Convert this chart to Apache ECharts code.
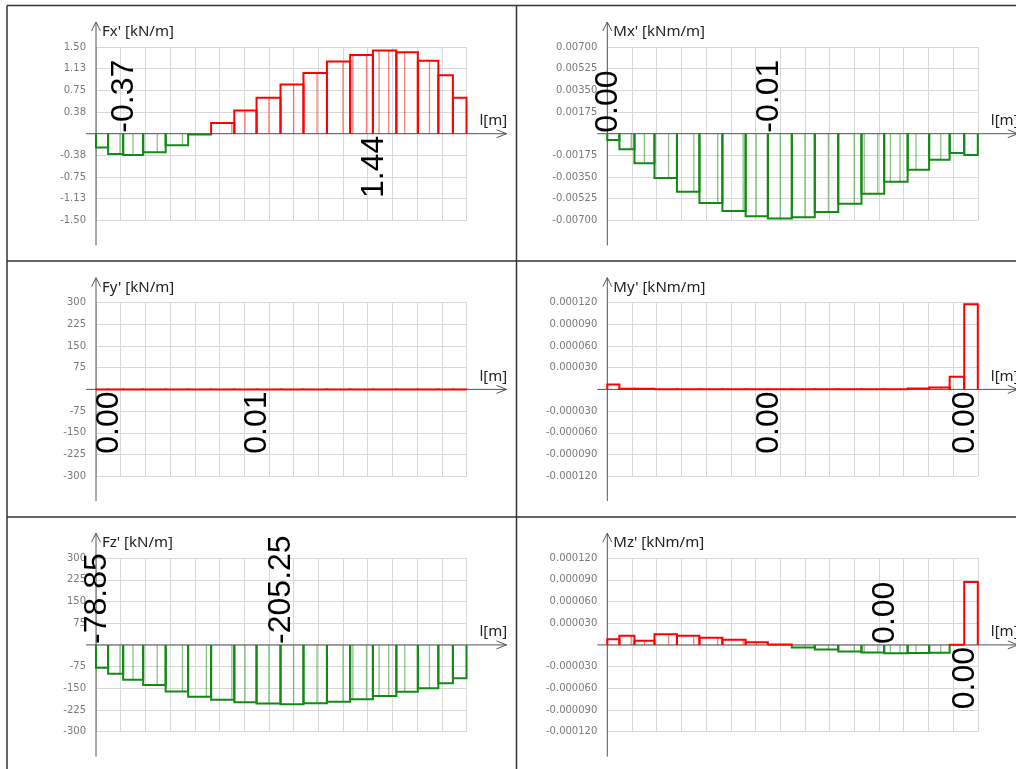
<!DOCTYPE html>
<html><head><meta charset="utf-8">
<script src="https://cdn.jsdelivr.net/npm/echarts@6/dist/echarts.min.js"></script>
<style>html,body{margin:0;padding:0;background:#fff}#c{width:1016px;height:769px}</style>
</head><body><div id="c"></div>
<script>
// ---- data ----
const segmentEdges = [0, 0.49, 1.10, 1.91, 2.82, 3.73, 4.66, 5.60, 6.50, 7.47, 8.40, 9.35, 10.29, 11.21, 12.16, 13.03, 13.86, 14.45, 15];
const meshLines = [0.97, 1.5, 2.48, 3.5, 4.47, 5.5, 6.03, 7.0, 8.0, 8.95, 10.0, 10.4, 10.95, 11.46, 11.85, 12.5, 13.5];

const fxValues = [-0.24, -0.35, -0.37, -0.32, -0.20, -0.015, 0.185, 0.40, 0.62, 0.85, 1.05, 1.25, 1.36, 1.44, 1.41, 1.26, 1.01, 0.62];
const mxValues = [-0.00051, -0.00126, -0.00239, -0.00358, -0.00468, -0.0056, -0.00624, -0.00667, -0.00684, -0.00675, -0.00632, -0.00565, -0.00485, -0.00388, -0.00291, -0.0021, -0.00156, -0.00172];
const fyValues = [0.002, 0.001, 0.002, 0.003, 0.004, 0.004, 0.005, 0.005, 0.006, 0.005, 0.005, 0.004, 0.004, 0.003, 0.003, 0.002, 0.002, 0.002];
const myValues = [6.9e-6, 1.0e-6, 1.0e-6, 3e-7, 3e-7, 3e-7, 3e-7, 3e-7, 1e-7, 3e-7, 3e-7, 3e-7, 3e-7, 3e-7, 1.4e-6, 2.8e-6, 1.75e-5, 1.178e-4];
const fzValues = [-78.85, -100, -121, -139, -161, -179, -190, -198.5, -202.5, -205.25, -202, -197, -188, -176.5, -162.5, -150, -133, -115.5];
const mzValues = [7.8e-6, 1.28e-5, 5.9e-6, 1.47e-5, 1.28e-5, 1.0e-5, 7.3e-6, 3.7e-6, 6e-7, -3.7e-6, -6.4e-6, -9.2e-6, -1.05e-5, -1.14e-5, -1.13e-5, -1.1e-5, 3e-7, 8.7e-5];

const fxTicks = [-1.5, -1.125, -0.75, -0.375, 0, 0.375, 0.75, 1.125, 1.5];
const mxTicks = [-0.007, -0.00525, -0.0035, -0.00175, 0, 0.00175, 0.0035, 0.00525, 0.007];
const fyTicks = [-300, -225, -150, -75, 0, 75, 150, 225, 300];
const myTicks = [-0.00012, -0.00009, -0.00006, -0.00003, 0, 0.00003, 0.00006, 0.00009, 0.00012];
const fzTicks = [-300, -225, -150, -75, 0, 75, 150, 225, 300];
const mzTicks = [-0.00012, -0.00009, -0.00006, -0.00003, 0, 0.00003, 0.00006, 0.00009, 0.00012];

const panelNames = ["Fx' [kN/m]", "Mx' [kNm/m]", "Fy' [kN/m]", "My' [kNm/m]", "Fz' [kN/m]", "Mz' [kNm/m]"];
const panelValues = [fxValues, mxValues, fyValues, myValues, fzValues, mzValues];
const panelTicks = [fxTicks, mxTicks, fyTicks, myTicks, fzTicks, mzTicks];
const tickDecimals = [2, 5, 0, 6, 0, 6];
const xUnitLabel = "l[m]";

// ---- style / layout ----
const RED = '#ff0000', GREEN = '#138a13';
const colX = [96, 607.3];
const rowTop = [47, 302.7, 558.2];
const GW = 370.5, GH = 173.4;
const labelFont = '32px "Liberation Sans", Arial, sans-serif';

function fmtVal(v) { return Math.abs(v) < 0.005 ? '0.00' : v.toFixed(2); }
function argExt(arr, cmp) { let k = 0; for (let i = 1; i < arr.length; i++) if (cmp(arr[i], arr[k])) k = i; return k; }

const grids = [], xAxes = [], yAxes = [], series = [], graphics = [];
for (let p = 0; p < 6; p++) {
  const left = colX[p % 2], top = rowTop[Math.floor(p / 2)];
  const ticks = panelTicks[p], dec = tickDecimals[p], vals = panelValues[p];
  grids.push({ left: left, top: top, width: GW, height: GH, containLabel: false });
  xAxes.push({ type: 'value', gridIndex: p, min: 0, max: 15, interval: 1,
    axisLine: { show: false }, axisTick: { show: false }, axisLabel: { show: false },
    splitLine: { show: true, lineStyle: { color: '#d8d8d8', width: 1 } } });
  yAxes.push({ type: 'value', gridIndex: p, min: ticks[0], max: ticks[ticks.length - 1], interval: ticks[1] - ticks[0],
    axisLine: { show: false }, axisTick: { show: false },
    axisLabel: { show: true, margin: 10, color: '#7a7a7a', fontFamily: '"DejaVu Sans", Verdana, sans-serif', fontSize: 10,
      formatter: function (v) { return Math.abs(v) < 1e-12 ? '' : v.toFixed(dec); } },
    splitLine: { show: true, lineStyle: { color: '#d8d8d8', width: 1 } } });

  const iMin = argExt(vals, (a, b) => a < b), iMax = argExt(vals, (a, b) => a > b);
  const data = vals.map((v, i) => [segmentEdges[i], segmentEdges[i + 1], v, i]);
  series.push({
    type: 'custom', xAxisIndex: p, yAxisIndex: p, z: 3, silent: true, animation: false,
    data: data,
    renderItem: function (params, api) {
      const x0 = api.value(0), x1 = api.value(1), v = api.value(2), idx = api.value(3);
      const a = api.coord([x0, 0]), b = api.coord([x1, v]);
      const col = v < 0 ? GREEN : RED;
      const children = [];
      meshLines.forEach(function (m) {
        if (m > x0 + 0.06 && m < x1 - 0.06) {
          const q = api.coord([m, 0]);
          children.push({ type: 'line', shape: { x1: q[0], y1: a[1], x2: q[0], y2: b[1] },
            style: { stroke: col, lineWidth: 1.3, opacity: 0.5 } });
        }
      });
      children.push({ type: 'polyline', shape: { points: [[a[0], a[1]], [a[0], b[1]], [b[0], b[1]], [b[0], a[1]]] },
        style: { fill: null, stroke: col, lineWidth: 2 } });
      if (idx === iMin || idx === iMax) {
        const neg = v < 0;
        children.push({ type: 'text', x: a[0] + 1, y: a[1] + (neg ? -1 : 2), rotation: Math.PI / 2, z2: 10,
          style: { text: fmtVal(v), fill: '#000', font: labelFont, align: neg ? 'left' : 'right', verticalAlign: 'middle' } });
      }
      return { type: 'group', children: children };
    }
  });

  // axis lines with arrows, names
  const zeroY = top + GH / 2, right = left + GW;
  const AX = { stroke: '#555', lineWidth: 1 };
  graphics.push({ type: 'line', z: 1, shape: { x1: left, y1: top + GH + 25, x2: left, y2: top - 25 }, style: AX });
  graphics.push({ type: 'polyline', z: 1, shape: { points: [[left - 4.5, top - 16], [left, top - 25], [left + 4.5, top - 16]] }, style: AX });
  graphics.push({ type: 'line', z: 1, shape: { x1: left - 10, y1: zeroY, x2: right + 40, y2: zeroY }, style: AX });
  graphics.push({ type: 'polyline', z: 1, shape: { points: [[right + 30, zeroY - 4], [right + 40, zeroY], [right + 30, zeroY + 4]] }, style: AX });
  graphics.push({ type: 'text', z: 1, x: left + 6, y: top - 15,
    style: { text: panelNames[p], fill: '#222', font: '15px "Noto Sans", sans-serif', align: 'left', verticalAlign: 'middle' } });
  graphics.push({ type: 'text', z: 1, x: right + 13, y: zeroY - 13,
    style: { text: xUnitLabel, fill: '#222', font: '15px "Noto Sans", sans-serif', align: 'left', verticalAlign: 'middle' } });
}
// panel frame
const FR = { stroke: '#333', lineWidth: 1.5 };
graphics.push({ type: 'line', z: 1, shape: { x1: 7, y1: 5.5, x2: 1016, y2: 5.5 }, style: FR });
graphics.push({ type: 'line', z: 1, shape: { x1: 7, y1: 5.5, x2: 7, y2: 769 }, style: FR });
graphics.push({ type: 'line', z: 1, shape: { x1: 516.5, y1: 5.5, x2: 516.5, y2: 769 }, style: FR });
graphics.push({ type: 'line', z: 1, shape: { x1: 7, y1: 261, x2: 1016, y2: 261 }, style: FR });
graphics.push({ type: 'line', z: 1, shape: { x1: 7, y1: 517, x2: 1016, y2: 517 }, style: FR });

const chart = echarts.init(document.getElementById('c'), null, { renderer: 'canvas' });
chart.setOption({ animation: false, grid: grids, xAxis: xAxes, yAxis: yAxes, series: series, graphic: { elements: graphics } });
</script></body></html>
